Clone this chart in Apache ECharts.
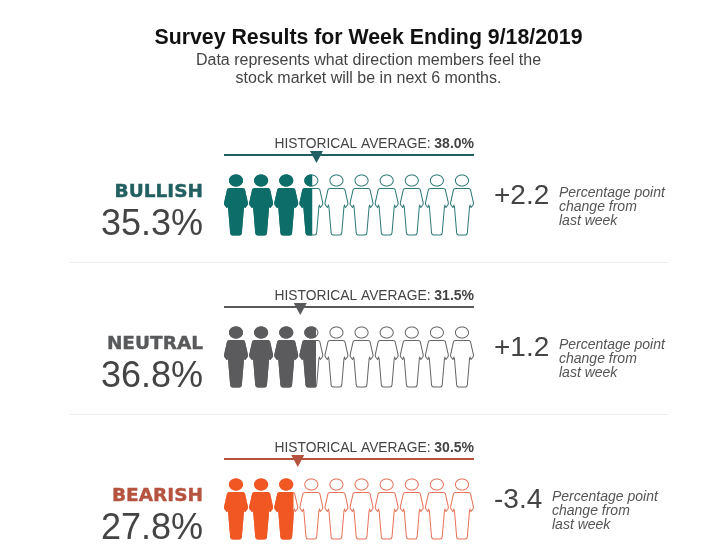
<!DOCTYPE html>
<html>
<head>
<meta charset="utf-8">
<style>html,body{margin:0;padding:0;background:#fff}#chart{width:722px;height:560px}</style>
<script src="https://cdn.jsdelivr.net/npm/echarts@6/dist/echarts.min.js"></script>
</head>
<body>
<div id="chart"></div>
<script>
var labels = ['BULLISH', 'NEUTRAL', 'BEARISH'];
var values = [35.3, 36.8, 27.8];
var averages = [38.0, 31.5, 30.5];
var changes = ['+2.2', '+1.2', '-3.4'];
var labelColors = ['#225f60', '#58595b', '#b5533f'];
var fillColors = ['#0d6e69', '#5b5b5d', '#f15722'];
var outlineColors = ['#2f7a77', '#666666', '#e8735a'];

var FONT = '"Liberation Sans", Arial, sans-serif';

// outer contours of the person icon, 24 x 61
var personHead = 'M12 0C16 0 19 2.7 19 6C19 9.3 16 12 12 12C8 12 5 9.3 5 6C5 2.7 8 0 12 0Z';
var personBody = 'M5.5 13.4L18.5 13.4Q20.4 13.4 20.9 15L23.8 28Q24.2 29.8 23.2 31L21.4 33.2Q20.8 33.8 20.3 33L20 32L17.8 58.5Q17.6 61 15.2 61' +
    'L8.8 61Q6.4 61 6.2 58.5L4 32L3.7 33Q3.2 33.8 2.6 33.2L0.8 31Q-0.2 29.8 0.2 28L3.1 15Q3.6 13.4 5.5 13.4Z';
// same contours inset by a pixel and wound the other way, this leaves a ring
var headHole = 'M12 1C8.6 1 6 3.3 6 6C6 8.7 8.6 11 12 11C15.4 11 18 8.7 18 6C18 3.3 15.4 1 12 1Z';
var bodyHole = 'M5.7 14.4Q4.5 14.4 4.1 15.2L1.2 28.2Q1 29.6 1.6 30.4L3 32L4 29.5L5 32L7.2 58.2Q7.4 60 8.8 60' +
    'L15.2 60Q16.6 60 16.8 58.2L19 32L20 29.5L21 32L22.4 30.4Q23 29.6 22.8 28.2L19.9 15.2Q19.5 14.4 18.3 14.4Z';
var personSolid = 'path://' + personHead + personBody;
var personOutline = 'path://' + personHead + headHole + personBody + bodyHole;

var grids = [], xAxes = [], yAxes = [], series = [], graphics = [];

function text(x, y, str, size, color, extra) {
    var style = {x: x, y: y, text: str, fontFamily: FONT, fontSize: size, fill: color, textVerticalAlign: 'middle'};
    for (var k in extra) style[k] = extra[k];
    return {type: 'text', silent: true, style: style};
}

graphics.push(text(368.5, 38, 'Survey Results for Week Ending 9/18/2019', 21.3, '#111111', {textAlign: 'center', fontWeight: 'bold'}));
graphics.push(text(368.5, 61, 'Data represents what direction members feel the', 16, '#444444', {textAlign: 'center'}));
graphics.push(text(368.5, 79, 'stock market will be in next 6 months.', 16, '#444444', {textAlign: 'center'}));

labels.forEach(function (label, i) {
    var top = 155 + i * 152;
    var peopleTop = top + 19;
    grids.push({left: 224, width: 250, top: peopleTop, height: 62});
    xAxes.push({
        type: 'value', gridIndex: i, min: 0, max: 100, position: 'top', offset: 19,
        axisLine: {show: true, onZero: false, lineStyle: {color: labelColors[i], width: 2, cap: 'butt'}},
        axisTick: {show: false}, axisLabel: {show: false}, splitLine: {show: false}
    });
    yAxes.push({
        type: 'category', gridIndex: i, data: [label],
        axisLine: {show: false}, axisTick: {show: false}, axisLabel: {show: false}
    });
    // outlined people behind, solid ones clipped to the value
    series.push({
        type: 'pictorialBar', xAxisIndex: i, yAxisIndex: i, silent: true, z: 2,
        symbol: personOutline, symbolSize: [24, 61], symbolRepeat: 10, symbolBoundingData: 100,
        itemStyle: {color: outlineColors[i]},
        data: [100]
    });
    series.push({
        type: 'pictorialBar', xAxisIndex: i, yAxisIndex: i, silent: true, z: 3,
        symbol: personSolid, symbolSize: [24, 61], symbolRepeat: 10, symbolBoundingData: 100, symbolClip: true,
        itemStyle: {color: fillColors[i]},
        data: [values[i]]
    });
    series.push({
        type: 'scatter', xAxisIndex: i, yAxisIndex: i, silent: true, clip: false, z: 4,
        symbol: 'triangle', symbolRotate: 180, symbolSize: [13, 12], symbolOffset: [-2.5, -48],
        itemStyle: {color: labelColors[i], opacity: 1},
        data: [[averages[i], 0]]
    });

    graphics.push({
        type: 'text', silent: true,
        style: {
            x: 474, y: top - 11, textAlign: 'right', textVerticalAlign: 'middle',
            text: '{a|HISTORICAL AVERAGE: }{b|' + averages[i].toFixed(1) + '%}',
            rich: {
                a: {fontFamily: FONT, fontSize: 13.8, fill: '#444444', color: '#444444'},
                b: {fontFamily: FONT, fontSize: 14, fontWeight: 'bold', fill: '#444444', color: '#444444'}
            }
        }
    });
    graphics.push(text(203, top + 37, label, 18.5, labelColors[i], {
        textAlign: 'right', fontWeight: 'bold', fontFamily: '"DejaVu Sans", sans-serif',
        stroke: labelColors[i], lineWidth: 0.4
    }));
    graphics.push(text(203, top + 70, values[i].toFixed(1) + '%', 36, '#444444', {textAlign: 'right'}));
    graphics.push(text(494, top + 41, changes[i], 28, '#444444', {textAlign: 'left'}));

    var noteX = changes[i].charAt(0) === '-' ? 552 : 559;
    ['Percentage point', 'change from', 'last week'].forEach(function (line, j) {
        graphics.push(text(noteX, top + 38 + j * 14, line, 14, '#555555', {textAlign: 'left', fontStyle: 'italic'}));
    });
    if (i < 2) {
        graphics.push({
            type: 'line', silent: true,
            shape: {x1: 70, y1: top + 107.5, x2: 668, y2: top + 107.5},
            style: {stroke: '#ececec', lineWidth: 1}
        });
    }
});

var myChart = echarts.init(document.getElementById('chart'));
myChart.setOption({
    animation: false,
    backgroundColor: '#ffffff',
    grid: grids,
    xAxis: xAxes,
    yAxis: yAxes,
    series: series,
    graphic: graphics
});
</script>
</body>
</html>
